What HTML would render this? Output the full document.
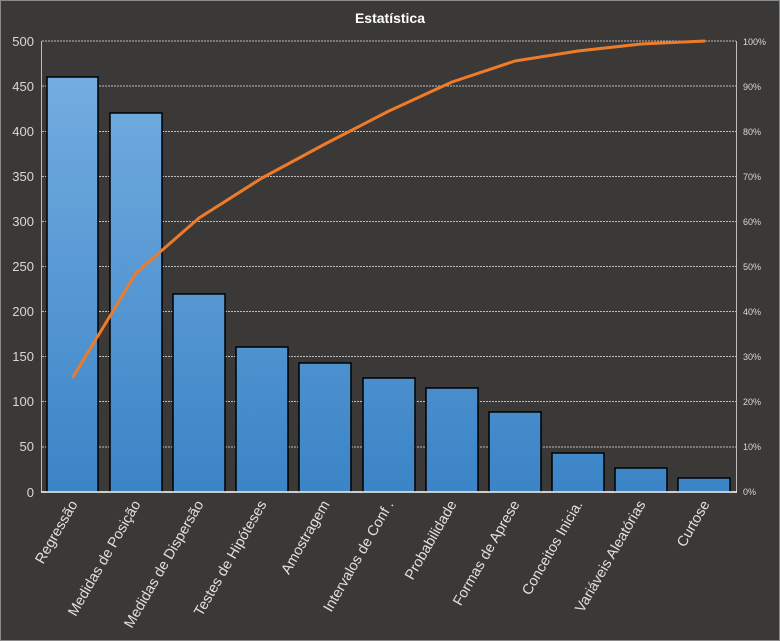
<!DOCTYPE html>
<html><head><meta charset="utf-8"><style>
html,body{margin:0;padding:0;background:#3b3937;}
svg{display:block;font-family:"Liberation Sans",sans-serif;}
</style></head><body>
<svg width="780" height="641" viewBox="0 0 780 641">
<defs>
<linearGradient id="g" x1="0" x2="0" y1="41" y2="492" gradientUnits="userSpaceOnUse">
<stop offset="0" stop-color="#78b0e3"/><stop offset="1" stop-color="#3b84c6"/>
</linearGradient>
</defs>
<rect x="0.5" y="0.5" width="779" height="640" fill="#3b3937" stroke="#8a8a8a"/>
<text x="390" y="23" text-anchor="middle" fill="#fff" font-size="14" font-weight="bold">Estatística</text>
<g stroke="#bdbdbd" stroke-width="1" stroke-dasharray="2,1">
<line x1="42" x2="736" y1="41" y2="41"/><line x1="42" x2="736" y1="86" y2="86"/>
<line x1="42" x2="736" y1="131.5" y2="131.5"/><line x1="42" x2="736" y1="176.5" y2="176.5"/>
<line x1="42" x2="736" y1="221.5" y2="221.5"/><line x1="42" x2="736" y1="266.5" y2="266.5"/>
<line x1="42" x2="736" y1="311.5" y2="311.5"/><line x1="42" x2="736" y1="356.5" y2="356.5"/>
<line x1="42" x2="736" y1="401.5" y2="401.5"/><line x1="42" x2="736" y1="447" y2="447"/>
</g>
<line x1="41.5" y1="41" x2="41.5" y2="492" stroke="#bdbdbd"/>
<line x1="736.5" y1="41" x2="736.5" y2="492" stroke="#bdbdbd"/>
<g fill="#d8d8d8" font-size="13" text-anchor="end">
<text x="34" y="46">500</text><text x="34" y="91">450</text><text x="34" y="136">400</text>
<text x="34" y="181">350</text><text x="34" y="226">300</text><text x="34" y="271">250</text>
<text x="34" y="316">200</text><text x="34" y="361">150</text><text x="34" y="406">100</text>
<text x="34" y="451">50</text><text x="34" y="497">0</text>
</g>
<g fill="#d8d8d8" font-size="9">
<text x="743" y="45">100%</text><text x="743" y="90">90%</text><text x="743" y="135">80%</text>
<text x="743" y="180">70%</text><text x="743" y="225">60%</text><text x="743" y="270">50%</text>
<text x="743" y="315">40%</text><text x="743" y="360">30%</text><text x="743" y="405">20%</text>
<text x="743" y="450">10%</text><text x="743" y="495">0%</text>
</g>
<g fill="url(#g)" stroke="#000" stroke-width="1.5">
<rect x="47" y="77" width="51" height="415"/>
<rect x="110" y="113" width="52" height="379"/>
<rect x="173" y="294" width="52" height="198"/>
<rect x="236" y="347" width="52" height="145"/>
<rect x="299" y="363" width="52" height="129"/>
<rect x="363" y="378" width="52" height="114"/>
<rect x="426" y="388" width="52" height="104"/>
<rect x="489" y="412" width="52" height="80"/>
<rect x="552" y="453" width="52" height="39"/>
<rect x="615" y="468" width="52" height="24"/>
<rect x="678" y="478" width="52" height="14"/>
</g>
<line x1="41" y1="492" x2="737" y2="492" stroke="#fff" stroke-width="1.5"/>
<polyline fill="none" stroke="#ee7b2a" stroke-width="3" stroke-linejoin="round" points="72.5,378 136,273 199,218 262,178 325,144 389,111 452,82 515,61 578,51 641,44 705,41"/>
<g fill="#e0e0e0" font-size="14.5" text-anchor="end">
<text transform="translate(78,504) rotate(-60)">Regressão</text>
<text transform="translate(141,504) rotate(-60)">Medidas de Posição</text>
<text transform="translate(204,504) rotate(-60)">Medidas de Dispersão</text>
<text transform="translate(267,504) rotate(-60)">Testes de Hipóteses</text>
<text transform="translate(330,504) rotate(-60)">Amostragem</text>
<text transform="translate(394,504) rotate(-60)">Intervalos de Conf .</text>
<text transform="translate(457,504) rotate(-60)">Probabilidade</text>
<text transform="translate(520,504) rotate(-60)">Formas de Aprese</text>
<text transform="translate(583,504) rotate(-60)">Conceitos Inicia.</text>
<text transform="translate(646,504) rotate(-60)">Variáveis Aleatórias</text>
<text transform="translate(710,504) rotate(-60)">Curtose</text>
</g>
</svg>
</body></html>
